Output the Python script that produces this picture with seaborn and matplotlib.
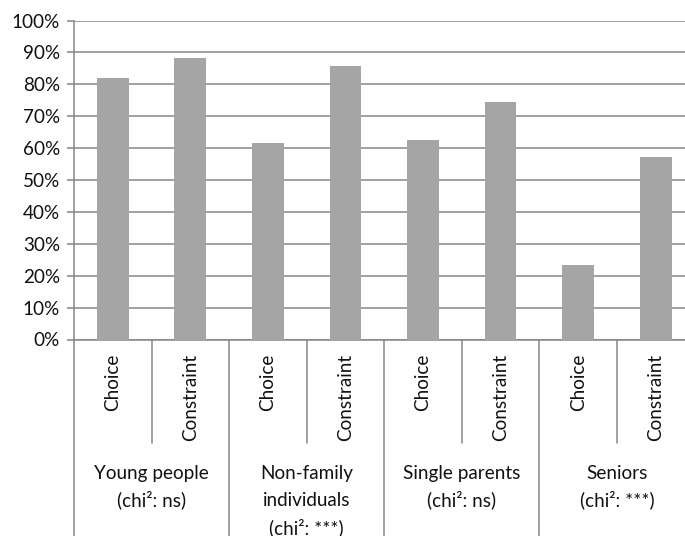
import matplotlib
matplotlib.use("Agg")
import matplotlib.pyplot as plt
import matplotlib.transforms as mtransforms
from matplotlib.ticker import PercentFormatter, MultipleLocator
import seaborn as sns
import pandas as pd

# Household types with the chi² test result, one line per row of the label
groups = ["Young people\n(chi²: ns)",
          "Non-family\nindividuals\n(chi²: ***)",
          "Single parents\n(chi²: ns)",
          "Seniors\n(chi²: ***)"]
reasons = ["Choice", "Constraint"]
choice_share = [0.82, 0.617, 0.625, 0.234]
constraint_share = [0.883, 0.858, 0.746, 0.573]

rows = []
for g, c, k in zip(groups, choice_share, constraint_share):
    rows.append({"slot": f"{g}|{reasons[0]}", "group": g, "reason": reasons[0], "share": c})
    rows.append({"slot": f"{g}|{reasons[1]}", "group": g, "reason": reasons[1], "share": k})
df = pd.DataFrame(rows)

sns.set_theme(style="white")
plt.rcParams["font.family"] = ["Lato", "DejaVu Sans"]

W, H = 685, 536
fig = plt.figure(figsize=(W / 100, H / 100), dpi=100)
left, right, top, bottom = 74, 694.5, 20.5, 339.5
ax = fig.add_axes([left / W, 1 - bottom / H, (right - left) / W, (bottom - top) / H])

grid_c = "#868686"
txt_c = "#111111"
fs = 13.6
lw = 1.1
sns.barplot(data=df, x="slot", y="share", color="#a5a5a5", saturation=1,
            width=0.41, linewidth=0, edgecolor="none", ax=ax, zorder=3)

ax.set_ylim(0, 1)
ax.set_xlim(-0.5, len(df) - 0.5)
ax.yaxis.set_major_locator(MultipleLocator(0.1))
ax.yaxis.set_major_formatter(PercentFormatter(1.0, decimals=0))
ax.grid(axis="y", color=grid_c, lw=lw, zorder=0)
ax.set_axisbelow(True)
ax.set_xlabel("")
ax.set_ylabel("")
ax.set_xticks([])
for side in ("top", "right"):
    ax.spines[side].set_visible(False)
for side in ("left", "bottom"):
    ax.spines[side].set_color(grid_c)
    ax.spines[side].set_linewidth(lw)
ax.tick_params(axis="y", which="major", direction="out", length=5, width=lw,
               color=grid_c, left=True, labelsize=fs, labelcolor=txt_c, pad=5)

# two-level category axis drawn under the plot area
px = 1.0 / (bottom - top)
trans = mtransforms.blended_transform_factory(ax.transData, ax.transAxes)
short_end = -(443 - bottom) * px
long_end = -(H - bottom + 2) * px
for i in range(len(groups)):
    ax.plot([2 * i + 0.5] * 2, [0, short_end], transform=trans, color=grid_c,
            lw=lw, clip_on=False)
for j in range(len(groups) + 1):
    ax.plot([2 * j - 0.5] * 2, [0, long_end], transform=trans, color=grid_c,
            lw=lw, clip_on=False)

for i, r in enumerate(df["reason"]):
    ax.text(i, -(354 - bottom) * px, r, rotation=90, ha="center", va="top",
            fontsize=fs, color=txt_c, transform=trans)

for g_i, g in enumerate(groups):
    for k, line in enumerate(g.split("\n")):
        ax.text(2 * g_i + 0.5, -(479 + 27.5 * k - bottom) * px, line,
                ha="center", va="baseline", fontsize=fs, color=txt_c,
                transform=trans)

fig.savefig("out.png", dpi=100)
